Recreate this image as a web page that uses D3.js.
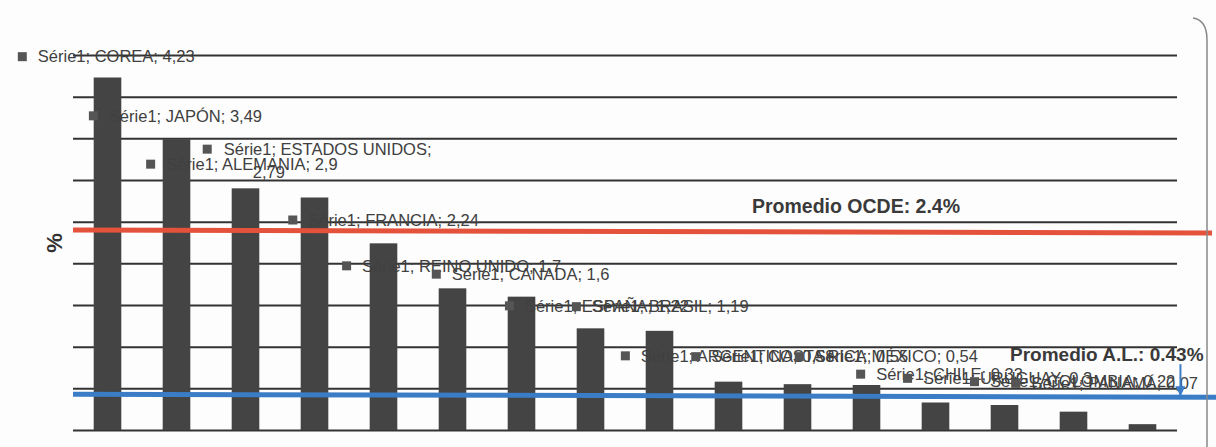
<!DOCTYPE html>
<html>
<head>
<meta charset="utf-8">
<script src="https://cdn.jsdelivr.net/npm/d3@7"></script>
<style>
  html, body { margin: 0; padding: 0; background: #fdfdfd; }
  svg { display: block; }
</style>
</head>
<body>
<div id="chart"></div>
<script>
// Gasto en I+D como % del PIB, por país
const countries = ['COREA', 'JAPÓN', 'ALEMANIA', 'ESTADOS UNIDOS', 'FRANCIA', 'REINO UNIDO',
    'CANADA', 'ESPAÑA', 'BRASIL', 'ARGENTINA', 'COSTA RICA', 'MÉXICO',
    'CHILE', 'URUGUAY', 'COLOMBIA', 'PANAMÁ'];
const values = [4.23, 3.49, 2.9, 2.79, 2.24, 1.7, 1.6, 1.22, 1.19, 0.58, 0.55, 0.54, 0.33, 0.3, 0.22, 0.07];
const seriesName = 'Série1';
const tickValues = [0, 0.5, 1, 1.5, 2, 2.5, 3, 3.5, 4, 4.5];
const avgOCDE = 2.4;
const avgAL = 0.43;

// where each data label sits: [slot position, value position] (moved by hand in the original)
const labelSpots = [
    [-0.80, 4.48], [0.23, 3.77], [1.06, 3.19], [1.88, 3.37], [3.12, 2.52], [3.90, 1.97],
    [5.20, 1.87], [6.26, 1.49], [7.23, 1.48], [7.94, 0.89], [8.96, 0.88], [10.46, 0.88],
    [11.35, 0.67], [12.03, 0.62], [13.0, 0.58], [13.6, 0.56]
];

const width = 1216, height = 447;
const margin = { left: 73, right: 1177, top: 55, bottom: 430 };

const svg = d3.select('#chart')
    .append('svg')
    .attr('width', width)
    .attr('height', height);

const x = d3.scaleBand()
    .domain(countries)
    .range([margin.left, margin.right])
    .paddingInner(0.6)
    .paddingOuter(0.3);

// same horizontal span, in slot units, for the free-floating labels
const slot = d3.scaleLinear().domain([0, countries.length]).range([margin.left, margin.right]);

const y = d3.scaleLinear()
    .domain([0, 4.5])
    .range([margin.bottom, margin.top]);

const fmt = v => String(v).replace('.', ',');

// gridlines
const grid = svg.append('g')
    .attr('transform', `translate(${margin.left},0)`)
    .call(d3.axisLeft(y)
        .tickValues(tickValues)
        .tickSize(-(margin.right - margin.left))
        .tickFormat(''));
grid.select('.domain').remove();
grid.selectAll('.tick line')
    .attr('stroke', '#333')
    .attr('stroke-width', 2);

// bars
svg.append('g')
    .selectAll('rect')
    .data(values)
    .enter()
    .append('rect')
    .attr('x', (d, i) => x(countries[i]))
    .attr('y', d => y(d))
    .attr('width', x.bandwidth())
    .attr('height', d => y(0) - y(d))
    .attr('fill', '#444');

// data labels
const labels = svg.append('g')
    .attr('font-family', 'Liberation Sans, Arial, sans-serif')
    .attr('font-size', 16.5)
    .attr('fill', '#404040');

labelSpots.forEach((p, i) => {
    const lx = slot(p[0]);
    const ly = y(p[1]);
    labels.append('rect')
        .attr('x', lx)
        .attr('y', ly - 4.5)
        .attr('width', 9)
        .attr('height', 9)
        .attr('fill', '#555');
    const name = countries[i];
    if (name === 'ESTADOS UNIDOS') {
        labels.append('text')
            .attr('x', lx + 21)
            .attr('y', ly)
            .attr('dy', '0.35em')
            .text(`${seriesName}; ${name};`);
        labels.append('text')
            .attr('x', lx + 50)
            .attr('y', ly + 23)
            .attr('dy', '0.35em')
            .text(fmt(values[i]));
    } else {
        labels.append('text')
            .attr('x', lx + 20)
            .attr('y', ly)
            .attr('dy', '0.35em')
            .text(`${seriesName}; ${name}; ${fmt(values[i])}`);
    }
});

// average lines
svg.append('line')
    .attr('x1', margin.left)
    .attr('x2', 1212)
    .attr('y1', y(avgOCDE))
    .attr('y2', y(avgOCDE) + 3)
    .attr('stroke', '#e4523b')
    .attr('stroke-width', 5);

svg.append('line')
    .attr('x1', margin.left)
    .attr('x2', width)
    .attr('y1', y(avgAL))
    .attr('y2', y(avgAL) + 3)
    .attr('stroke', '#3a7cc6')
    .attr('stroke-width', 5);

svg.append('text')
    .attr('x', 752)
    .attr('y', y(avgOCDE) - 17)
    .attr('font-family', 'Liberation Sans, Arial, sans-serif')
    .attr('font-weight', 'bold')
    .attr('font-size', 19.5)
    .attr('fill', '#3a3a3a')
    .text(`Promedio OCDE: ${avgOCDE}%`);

svg.append('text')
    .attr('x', 1010)
    .attr('y', y(avgAL) - 40)
    .attr('dy', '0.35em')
    .attr('font-family', 'Liberation Sans, Arial, sans-serif')
    .attr('font-weight', 'bold')
    .attr('font-size', 19)
    .attr('fill', '#3a3a3a')
    .text(`Promedio A.L.: ${avgAL}%`);

// arrow from the A.L. label down to its line
svg.append('defs')
    .append('marker')
    .attr('id', 'arrow')
    .attr('viewBox', '0 0 10 10')
    .attr('refX', 9)
    .attr('refY', 5)
    .attr('markerWidth', 5)
    .attr('markerHeight', 5)
    .attr('orient', 'auto')
    .append('path')
    .attr('d', 'M0,0 L10,5 L0,10 z')
    .attr('fill', '#3a7cc6');

svg.append('line')
    .attr('x1', slot(16.05))
    .attr('x2', slot(16.05))
    .attr('y1', y(avgAL) - 30)
    .attr('y2', y(avgAL) + 1)
    .attr('stroke', '#3a7cc6')
    .attr('stroke-width', 2)
    .attr('marker-end', 'url(#arrow)');

// y axis title
svg.append('text')
    .attr('transform', `translate(54,243) rotate(-90)`)
    .attr('text-anchor', 'middle')
    .attr('dy', '0.35em')
    .attr('font-family', 'Liberation Sans, Arial, sans-serif')
    .attr('font-weight', 'bold')
    .attr('font-size', 22)
    .attr('fill', '#333')
    .text('%');

// chart frame edge on the right
svg.append('path')
    .attr('d', 'M1193,18 Q1207,20 1207,40 L1207,447')
    .attr('fill', 'none')
    .attr('stroke', '#888')
    .attr('stroke-width', 1.5);
</script>
</body>
</html>
